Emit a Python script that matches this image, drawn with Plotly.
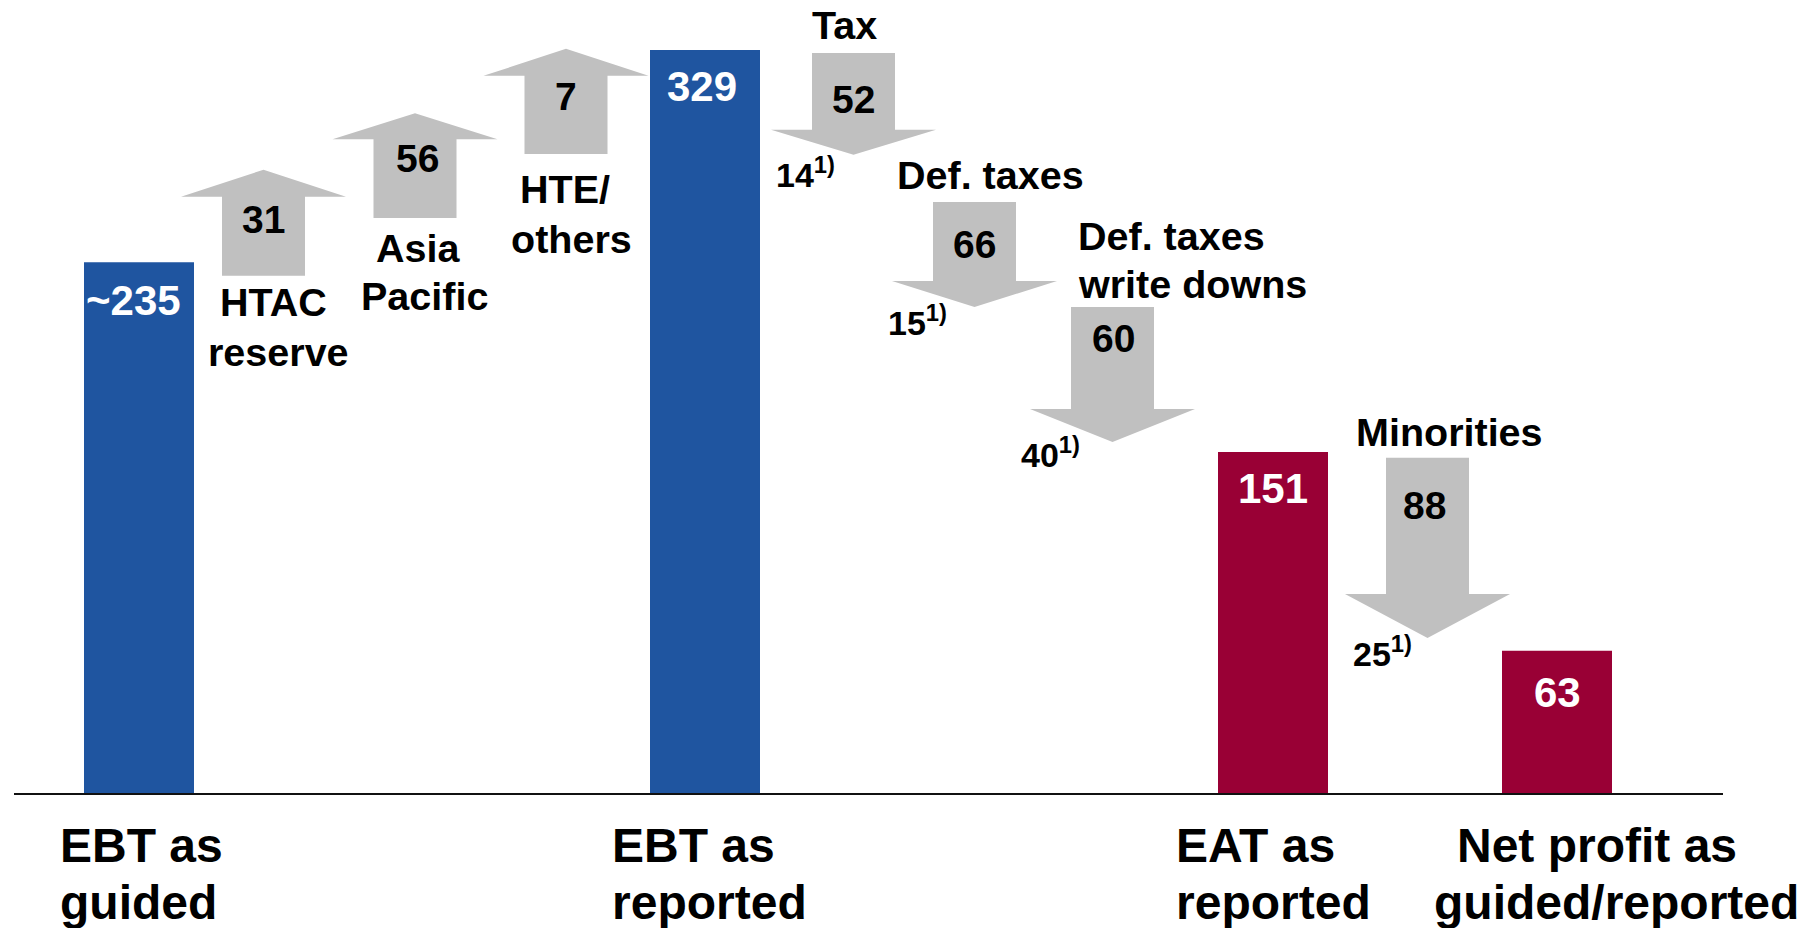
import plotly.graph_objects as go

# ---------------- data ----------------
bar_names = ["EBT as guided", "EBT as reported", "EAT as reported", "Net profit as guided/reported"]
bar_values = [235, 329, 151, 63]
bar_labels = ["~235", "329", "151", "63"]

step_names = ["HTAC reserve", "Asia Pacific", "HTE/ others", "Tax", "Def. taxes",
              "Def. taxes write downs", "Minorities"]
step_values = [31, 56, 7, 52, 66, 60, 88]
step_notes = [None, None, None, 14, 15, 40, 25]
# schematic arrow extents (value units)
arrow_tail = [229, 254.6, 283, 327.7, 261.7, 215.2, 148.4]
arrow_tip = [276, 301, 329.5, 282.6, 215.2, 155.4, 68.6]

# ---------------- layout constants ----------------
W, H = 1820, 928
BASE_PX = 793                 # pixel row of the zero line
PX_PER_UNIT = 743 / 329       # vertical scale
X0, X1 = 14, 1723             # extent of axis line (pixels)
bar_x = [139, 705, 1273, 1557]
bar_width = 110
bar_colors = ["#1f55a0", "#1f55a0", "#990035", "#990035"]
arrow_x = [263.5, 415, 566, 853.5, 974.5, 1112.5, 1427.5]
arrow_head_len = [27, 26, 27, 25, 26, 33, 44]   # pixels
BODY_HALF, HEAD_HALF = 41.5, 82.5
GRAY = "#c0c0c0"
FONT = "Liberation Sans, Arial, Helvetica, sans-serif"


def vy(py):
    """pixel row -> value units"""
    return (BASE_PX - py) / PX_PER_UNIT


def paper_y(py):
    """pixel row -> paper fraction of the plot area"""
    return (BASE_PX - py) / BASE_PX


fig = go.Figure()

fig.add_trace(go.Bar(
    x=bar_x, y=bar_values, width=bar_width,
    marker=dict(color=bar_colors, line=dict(width=0)),
    hoverinfo="skip", showlegend=False,
))

for cx, t, p, hl in zip(arrow_x, arrow_tail, arrow_tip, arrow_head_len):
    d = 1 if p > t else -1
    s = p - d * hl / PX_PER_UNIT
    xs = [cx - BODY_HALF, cx - BODY_HALF, cx - HEAD_HALF, cx, cx + HEAD_HALF,
          cx + BODY_HALF, cx + BODY_HALF, cx - BODY_HALF]
    ys = [t, s, s, p, s, s, t, t]
    fig.add_trace(go.Scatter(
        x=xs, y=ys, mode="lines", fill="toself", fillcolor=GRAY,
        line=dict(width=0, color=GRAY), hoverinfo="skip", showlegend=False,
    ))

ann = []


def add(text, x, py, size, color="#000000", xanchor="center", paper=False):
    ann.append(dict(text=text, x=x, y=paper_y(py) if paper else vy(py),
                    xref="x", yref="paper" if paper else "y",
                    xanchor=xanchor, yanchor="middle", showarrow=False,
                    font=dict(family=FONT, size=size, color=color, weight="bold")))


# bar value labels
bar_label_pos = [(133, 300), (702, 86), (1273, 488), (1557, 692)]
for lab, (x, py) in zip(bar_labels, bar_label_pos):
    add(lab, x, py, 42, "#ffffff")

# step values inside arrows
val_pos = [(263, 219), (417, 158), (566, 96), (853, 99), (974, 244), (1113, 338), (1424, 505)]
for v, (x, py) in zip(step_values, val_pos):
    add(str(v), x, py, 39)

# step names
name_lines = [
    [("HTAC", 273, 302, "center"), ("reserve", 278, 352, "center")],
    [("Asia", 418, 248, "center"), ("Pacific", 424, 296, "center")],
    [("HTE/", 565, 189, "center"), ("others", 571, 239, "center")],
    [("Tax", 844, 25, "center")],
    [("Def. taxes", 990, 175, "center")],
    [("Def. taxes", 1076, 236, "left"), ("write downs", 1076, 284, "left")],
    [("Minorities", 1449, 432, "center")],
]
for lines in name_lines:
    for txt, x, py, xa in lines:
        add(txt, x, py, 39.5, xanchor=xa)

# footnote values
note_pos = [None, None, None, (774, 172), (886, 320), (1019, 452), (1351, 651)]
for n, pos in zip(step_notes, note_pos):
    if n is not None:
        add(f"{n}<sup>1)</sup>", pos[0], pos[1], 34, xanchor="left")

# category labels under the axis
cat_lines = [
    [("EBT as", 58, 846), ("guided", 58, 902)],
    [("EBT as", 610, 846), ("reported", 610, 902)],
    [("EAT as", 1174, 846), ("reported", 1174, 902)],
    [("Net profit as", 1455, 846), ("guided/reported", 1432, 902)],
]
for lines in cat_lines:
    for txt, x, py in lines:
        add(txt, x, py, 48, xanchor="left", paper=True)

fig.update_layout(
    width=W, height=H,
    margin=dict(l=0, r=0, t=0, b=H - BASE_PX, pad=0),
    paper_bgcolor="white", plot_bgcolor="white",
    showlegend=False,
    annotations=ann,
    xaxis=dict(domain=[X0 / W, X1 / W], range=[X0, X1], showgrid=False,
               zeroline=False, showticklabels=False, ticks="",
               showline=True, linecolor="#111111", linewidth=2, fixedrange=True),
    yaxis=dict(range=[0, BASE_PX / PX_PER_UNIT], showgrid=False, zeroline=False,
               showticklabels=False, ticks="", showline=False, fixedrange=True),
)

fig.write_html("out.html", config={"displayModeBar": False},
               post_script="document.body.style.margin='0';document.body.style.overflow='hidden';")
